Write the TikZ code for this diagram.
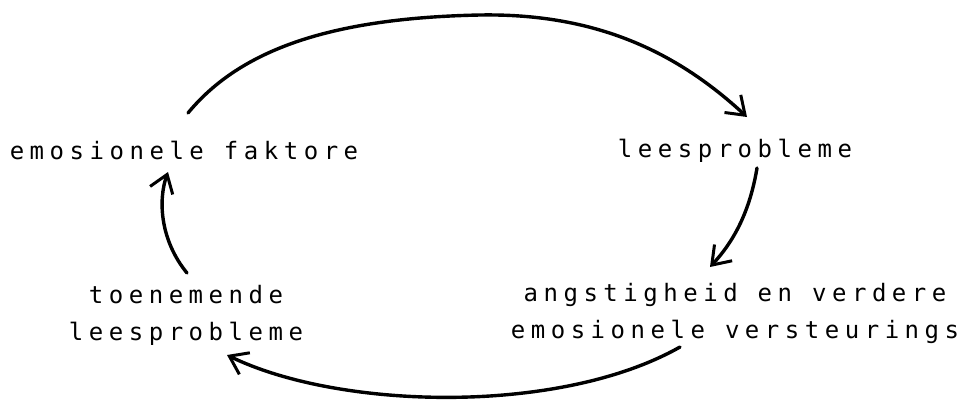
\documentclass[tikz,border=0pt]{standalone}
\usepackage{fontspec}
\setmonofont[LetterSpace=23]{DejaVu Sans Mono}
\usetikzlibrary{arrows.meta}
\begin{document}
\begin{tikzpicture}[x=1pt,y=-1pt,
  lbl/.style={font=\ttfamily\fontsize{24}{37}\selectfont, inner sep=0pt, align=center, anchor=base},
  flow/.style={line width=3.4pt, line cap=round, line join=round,
    -{Straight Barb[length=17pt,width=24pt,line width=3pt]}}]
\useasboundingbox (0,0) rectangle (968,407);
\node[lbl] (emo) at (184,159) {emosionele faktore};
\node[lbl] (lees) at (735,157) {leesprobleme};
\node[lbl] (angs) at (735,338) {angstigheid en verdere\\emosionele versteurings};
\node[lbl] (toen) at (186,340) {toenemende\\leesprobleme};
% connector end points
\coordinate (a1) at (188,113);
\coordinate (a2) at (747,117);
\coordinate (b1) at (757,168);
\coordinate (b2) at (710,267);
\coordinate (c1) at (680,347);
\coordinate (c2) at (227,355);
\coordinate (d1) at (187,273);
\coordinate (d2) at (168,172);
\draw[flow] (a1) .. controls (240,50) and (330,18) .. (480,15)
  .. controls (600,13) and (680,55) .. (a2);
\draw[flow] (b1) .. controls (750,210) and (735,240) .. (b2);
\draw[flow] (c1) .. controls (560,415) and (340,410) .. (c2);
\draw[flow] (d1) .. controls (160,240) and (158,200) .. (d2);
\end{tikzpicture}
\end{document}
